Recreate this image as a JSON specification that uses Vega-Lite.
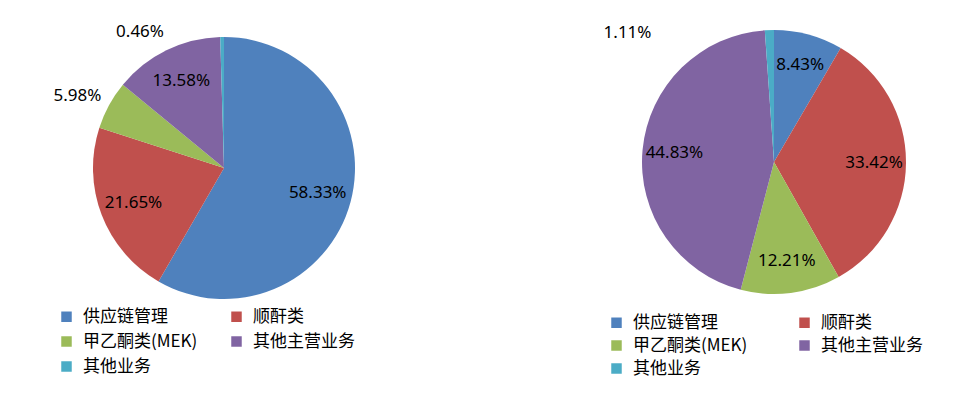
{
  "$schema": "https://vega.github.io/schema/vega-lite/v6.json",
  "padding": 0,
  "spacing": 134,
  "background": "white",
  "config": {
    "view": {"stroke": null},
    "font": "Noto Sans CJK SC",
    "legend": {
      "orient": "none",
      "columns": 2,
      "symbolType": "square",
      "symbolSize": 110,
      "symbolStrokeWidth": 0,
      "labelFontSize": 17,
      "labelColor": "#000000",
      "labelLimit": 300,
      "labelOffset": 8,
      "padding": 0,
      "title": null
    }
  },
  "datasets": {
    "left": [
      {"category": "供应链管理", "value": 58.33, "label": "58.33%", "order": 1},
      {"category": "顺酐类", "value": 21.65, "label": "21.65%", "order": 2},
      {"category": "甲乙酮类(MEK)", "value": 5.98, "label": "5.98%", "order": 3},
      {"category": "其他主营业务", "value": 13.58, "label": "13.58%", "order": 4},
      {"category": "其他业务", "value": 0.46, "label": "0.46%", "order": 5}
    ],
    "right": [
      {"category": "供应链管理", "value": 8.43, "label": "8.43%", "order": 1},
      {"category": "顺酐类", "value": 33.42, "label": "33.42%", "order": 2},
      {"category": "甲乙酮类(MEK)", "value": 12.21, "label": "12.21%", "order": 3},
      {"category": "其他主营业务", "value": 44.83, "label": "44.83%", "order": 4},
      {"category": "其他业务", "value": 1.11, "label": "1.11%", "order": 5}
    ]
  },
  "resolve": {"scale": {"color": "independent"}, "legend": {"color": "independent"}},
  "hconcat": [
    {
      "width": 448,
      "height": 336,
      "data": {"name": "left"},
      "encoding": {
        "theta": {"field": "value", "type": "quantitative", "stack": true},
        "order": {"field": "order", "type": "quantitative"}
      },
      "layer": [
        {
          "mark": {"type": "arc", "outerRadius": 131},
          "encoding": {
            "color": {
              "field": "category", "type": "nominal",
              "scale": {
                "domain": ["供应链管理", "甲乙酮类(MEK)", "其他业务", "顺酐类", "其他主营业务"],
                "range": ["#4F81BD", "#9BBB59", "#4BACC6", "#C0504D", "#8064A2"]
              },
              "legend": {"legendX": 58, "legendY": 308, "rowPadding": 7, "columnPadding": 30}
            }
          }
        },
        {
          "mark": {"type": "text", "radius": 97, "fontSize": 17, "font": "Noto Sans", "color": "#000000"},
          "encoding": {"text": {"condition": {"test": "datum.value > 10", "field": "label"}, "value": ""}}
        },
        {
          "mark": {"type": "text", "radius": 158, "dx": -8, "dy": 4, "fontSize": 17, "font": "Noto Sans", "color": "#000000"},
          "encoding": {"text": {"condition": {"test": "datum.value > 2 && datum.value < 10", "field": "label"}, "value": ""}}
        },
        {
          "transform": [
            {"stack": "value", "groupby": [], "sort": [{"field": "order", "order": "ascending"}], "as": ["s0", "s1"]},
            {"filter": "datum.value < 2"}
          ],
          "mark": {"type": "text", "radius": 137, "dx": -80, "dy": 1, "fontSize": 17, "font": "Noto Sans", "color": "#000000"},
          "encoding": {
            "theta": {"field": "s0", "type": "quantitative", "stack": null},
            "text": {"field": "label"}
          }
        }
      ]
    },
    {
      "width": 384,
      "height": 324,
      "data": {"name": "right"},
      "encoding": {
        "theta": {"field": "value", "type": "quantitative", "stack": true},
        "order": {"field": "order", "type": "quantitative"}
      },
      "layer": [
        {
          "mark": {"type": "arc", "outerRadius": 132},
          "encoding": {
            "color": {
              "field": "category", "type": "nominal",
              "scale": {
                "domain": ["供应链管理", "甲乙酮类(MEK)", "其他业务", "顺酐类", "其他主营业务"],
                "range": ["#4F81BD", "#9BBB59", "#4BACC6", "#C0504D", "#8064A2"]
              },
              "legend": {"legendX": 26, "legendY": 314, "rowPadding": 5, "columnPadding": 48}
            }
          }
        },
        {
          "mark": {"type": "text", "radius": 100, "fontSize": 17, "font": "Noto Sans", "color": "#000000"},
          "encoding": {"text": {"condition": {"test": "datum.value > 2", "field": "label"}, "value": ""}}
        },
        {
          "transform": [
            {"stack": "value", "groupby": [], "sort": [{"field": "order", "order": "ascending"}], "as": ["s0", "s1"]},
            {"filter": "datum.value < 2"}
          ],
          "mark": {"type": "text", "radius": 136, "dx": -137, "dy": 7, "fontSize": 17, "font": "Noto Sans", "color": "#000000"},
          "encoding": {
            "theta": {"field": "s0", "type": "quantitative", "stack": null},
            "text": {"field": "label"}
          }
        }
      ]
    }
  ]
}
